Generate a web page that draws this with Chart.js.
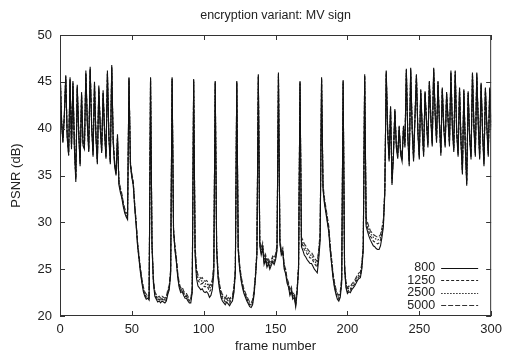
<!DOCTYPE html>
<html>
<head>
<meta charset="utf-8">
<title>encryption variant: MV sign</title>
<script src="https://cdn.jsdelivr.net/npm/chart.js@4/dist/chart.umd.min.js"></script>
<style>
  html, body { margin: 0; padding: 0; background: #fff; }
  #wrap { width: 508px; height: 355px; }
</style>
</head>
<body>
<div id="wrap"><canvas id="c" width="508" height="355"></canvas></div>
<script>
// PSNR per frame for four bit rates (frame 0 .. 300)
const frames = Array.from({ length: 301 }, (_, i) => i);
const seriesNames = ['800', '1250', '2500', '5000'];
const xTicks = [0, 50, 100, 150, 200, 250, 300];
const yTicks = [20, 25, 30, 35, 40, 45, 50];

const psnr800 = [
  46.9, 40.8, 38.5, 41.5, 45.7, 39.0, 37.2, 45.5, 37.8, 45.1, 38.0, 34.3, 44.7, 39.5, 36.0, 43.9, 38.2, 37.8, 46.2, 40.5,
  37.5, 46.6, 40.2, 37.0, 45.0, 39.0, 36.2, 44.6, 40.0, 37.4, 44.1, 39.5, 36.8, 46.2, 39.0, 36.2, 46.8, 38.5, 36.0,
  35.0, 39.4, 34.0, 33.2, 32.6, 31.7, 31.0, 30.6, 30.3, 45.5, 36.0, 34.8, 33.9, 31.5, 29.6, 27.4, 26.0, 24.6, 23.5, 22.6,
  22.1, 21.8, 21.9, 21.7,
  45.5,
  27.5, 23.5, 22.1, 21.8, 21.5, 21.6, 21.4, 21.6, 21.5, 21.4, 21.6, 22.3, 22.8, 24.5,
  45.5,
  29.0, 27.0, 25.7, 24.0, 23.0, 22.5, 22.6, 22.2, 21.9, 21.9, 21.6, 21.4, 21.4, 22.5,
  45.3,
  26.5, 24.0, 23.2, 23.0, 22.8, 22.9, 22.6, 22.5, 22.6, 22.4, 22.0, 22.2, 22.8, 24.5,
  45.1,
  27.0, 24.0, 22.8, 22.0, 21.6, 21.4, 21.2, 21.5, 21.3, 21.1, 21.4, 21.6, 22.5, 24.5,
  45.1,
  27.0, 25.0, 23.8, 23.0, 22.4, 22.0, 21.6, 21.3, 21.0, 20.9, 21.2, 22.2, 24.0, 26.5,
  45.8,
  27.5, 26.5, 27.2, 25.5, 26.0, 25.2, 25.6, 25.0, 25.4, 25.8, 25.5, 26.0, 27.0,
  46.0,
  27.8, 26.5, 26.8, 25.0, 24.5, 23.5, 23.1, 22.2, 22.6, 21.8, 22.0, 21.0, 22.5, 25.0,
  45.1,
  27.4, 27.0, 26.5, 26.3, 26.0, 25.8, 25.6, 25.6, 25.3, 25.0, 24.8, 24.6, 26.0, 28.0,
  45.5,
  33.5, 32.0, 31.0, 30.0, 29.0, 27.0, 25.5, 24.0, 23.0, 22.3, 21.8, 21.6, 22.0, 23.5,
  45.2,
  25.0, 23.0, 22.4, 22.6, 22.5, 22.8, 23.0, 23.2, 23.5, 23.8, 24.0, 24.1, 25.0, 27.0,
  45.8,
  29.6, 29.0, 28.5, 28.1, 27.8, 27.5, 27.4, 27.2, 27.1, 27.1, 27.5, 28.4, 29.5, 33.0,
  46.2,
  39.5, 36.5, 42.4, 34.0, 37.0, 42.1, 38.0, 36.8, 40.3, 37.2, 36.5, 40.3, 38.0, 46.4, 39.0, 36.0, 46.5, 40.0, 36.5, 41.0,
  45.8, 39.5, 36.7, 44.2, 40.0, 37.0, 44.0, 40.5, 38.0, 45.1, 41.0, 38.1, 46.5, 41.5, 38.5, 45.1, 40.5, 37.1, 44.4, 40.0,
  38.0, 43.9, 40.8, 38.1, 46.2, 40.0, 37.5, 46.2, 39.5, 37.0, 44.4, 38.5, 35.1, 44.2, 38.0, 33.9, 44.0, 39.0, 36.7, 46.0,
  40.0, 37.0, 46.0, 40.5, 36.7, 44.9, 39.5, 36.0, 44.4, 40.0, 37.0, 44.4, 40.0
];

const psnr1250 = [
  46.7, 41.0, 38.6, 41.3, 45.6, 39.2, 37.1, 45.3, 38.0, 44.9, 38.2, 34.6, 44.5, 39.7, 36.2, 43.7, 38.4, 37.9, 46.0, 40.7,
  37.6, 46.4, 40.4, 37.2, 44.8, 39.2, 36.4, 44.4, 40.2, 37.6, 43.9, 39.7, 36.9, 46.0, 39.2, 36.4, 46.6, 38.7, 36.2,
  35.2, 39.2, 34.2, 33.4, 32.8, 31.9, 31.2, 30.8, 30.5, 45.4, 36.2, 34.9, 34.0, 31.7, 29.8, 27.6, 26.2, 24.8, 23.7, 22.8,
  22.3, 22.0, 22.1, 21.9,
  45.4,
  27.6, 23.7, 22.3, 22.0, 21.7, 21.8, 21.6, 21.8, 21.7, 21.6, 21.8, 22.5, 23.0, 24.7,
  45.4,
  29.1, 27.2, 25.9, 24.2, 23.2, 22.7, 22.8, 22.4, 22.1, 22.1, 21.8, 21.6, 21.6, 22.7,
  45.2,
  26.9, 24.5, 23.8, 23.6, 23.4, 23.5, 23.2, 23.1, 23.2, 23.0, 22.6, 22.8, 23.3, 24.9,
  45.0,
  27.2, 24.2, 23.0, 22.3, 21.9, 21.7, 21.5, 21.8, 21.6, 21.4, 21.7, 21.8, 22.7, 24.7,
  45.0,
  27.2, 25.2, 24.0, 23.2, 22.6, 22.2, 21.8, 21.5, 21.2, 21.1, 21.4, 22.4, 24.2, 26.7,
  45.7,
  27.7, 26.8, 27.4, 25.8, 26.2, 25.5, 25.8, 25.3, 25.6, 26.0, 25.8, 26.2, 27.2,
  45.9,
  27.9, 26.7, 27.0, 25.2, 24.7, 23.7, 23.3, 22.4, 22.8, 22.0, 22.2, 21.2, 22.7, 25.2,
  45.0,
  27.9, 27.5, 27.1, 26.9, 26.6, 26.4, 26.2, 26.2, 25.9, 25.6, 25.4, 25.2, 26.5, 28.4,
  45.4,
  33.7, 32.2, 31.2, 30.2, 29.2, 27.2, 25.7, 24.2, 23.2, 22.5, 22.0, 21.8, 22.2, 23.7,
  45.1,
  25.2, 23.2, 22.6, 22.8, 22.7, 23.0, 23.2, 23.4, 23.7, 24.0, 24.2, 24.3, 25.2, 27.2,
  45.7,
  29.9, 29.4, 28.9, 28.5, 28.3, 28.0, 27.9, 27.8, 27.7, 27.8, 28.1, 28.8, 29.8, 33.2,
  46.1,
  39.7, 36.7, 42.3, 34.2, 37.2, 42.0, 38.2, 37.0, 40.2, 37.4, 36.7, 40.2, 38.2, 46.3, 39.2, 36.2, 46.4, 40.2, 36.7, 41.2,
  45.7, 39.7, 36.9, 44.1, 40.2, 37.2, 43.9, 40.7, 38.2, 45.0, 41.2, 38.3, 46.4, 41.7, 38.7, 45.0, 40.7, 37.3, 44.3, 40.2,
  38.2, 43.8, 41.0, 38.3, 46.1, 40.2, 37.7, 46.1, 39.7, 37.2, 44.3, 38.7, 35.3, 44.1, 38.2, 34.1, 43.9, 39.2, 36.9, 45.9,
  40.2, 37.2, 45.9, 40.7, 36.9, 44.8, 39.7, 36.2, 44.3, 40.2, 37.2, 44.3, 40.2
];

const psnr2500 = [
  46.6, 41.2, 38.8, 41.2, 45.5, 39.3, 37.4, 45.2, 38.1, 44.8, 38.3, 34.7, 44.4, 39.8, 36.3, 43.6, 38.5, 38.1, 45.9, 40.8,
  37.8, 46.3, 40.5, 37.3, 44.7, 39.3, 36.5, 44.3, 40.3, 37.7, 43.8, 39.8, 37.1, 45.9, 39.3, 36.5, 46.5, 38.8, 36.3,
  35.3, 39.0, 34.3, 33.5, 32.9, 32.0, 31.3, 30.9, 30.6, 45.3, 36.3, 35.0, 34.2, 31.8, 29.9, 27.7, 26.3, 24.9, 23.8, 22.9,
  22.4, 22.1, 22.2, 22.0,
  45.3,
  27.8, 23.8, 22.4, 22.1, 21.8, 21.9, 21.7, 21.9, 21.8, 21.7, 21.9, 22.6, 23.1, 24.8,
  45.3,
  29.2, 27.3, 26.0, 24.3, 23.3, 22.8, 22.9, 22.5, 22.2, 22.2, 21.9, 21.7, 21.7, 22.8,
  45.1,
  27.2, 24.8, 24.1, 23.9, 23.7, 23.8, 23.5, 23.4, 23.5, 23.3, 22.9, 23.1, 23.6, 25.2,
  44.9,
  27.4, 24.4, 23.2, 22.5, 22.1, 21.9, 21.7, 22.0, 21.8, 21.6, 21.9, 22.0, 22.9, 24.9,
  44.9,
  27.3, 25.3, 24.1, 23.3, 22.7, 22.3, 21.9, 21.6, 21.3, 21.2, 21.5, 22.5, 24.3, 26.8,
  45.6,
  27.9, 27.0, 27.6, 26.0, 26.4, 25.7, 26.0, 25.5, 25.8, 26.2, 26.0, 26.4, 27.4,
  45.8,
  28.0, 26.8, 27.1, 25.3, 24.8, 23.8, 23.4, 22.5, 22.9, 22.1, 22.3, 21.3, 22.8, 25.3,
  44.9,
  28.1, 27.8, 27.4, 27.2, 26.9, 26.7, 26.5, 26.5, 26.2, 25.9, 25.7, 25.5, 26.8, 28.6,
  45.3,
  33.9, 32.4, 31.4, 30.4, 29.4, 27.4, 25.9, 24.4, 23.4, 22.7, 22.2, 22.0, 22.4, 23.9,
  45.0,
  25.4, 23.4, 22.8, 23.0, 22.9, 23.2, 23.4, 23.6, 23.9, 24.2, 24.4, 24.5, 25.4, 27.4,
  45.6,
  30.2, 29.7, 29.2, 28.8, 28.6, 28.4, 28.3, 28.2, 28.1, 28.2, 28.4, 29.1, 30.0, 33.4,
  45.9,
  39.9, 36.9, 42.2, 34.4, 37.4, 41.9, 38.4, 37.2, 40.1, 37.6, 36.9, 40.1, 38.4, 46.2, 39.4, 36.4, 46.3, 40.4, 36.9, 41.4,
  45.6, 39.9, 37.1, 44.0, 40.4, 37.4, 43.8, 40.9, 38.4, 44.9, 41.4, 38.5, 46.3, 41.9, 38.9, 44.9, 40.9, 37.5, 44.2, 40.4,
  38.4, 43.7, 41.2, 38.5, 46.0, 40.4, 37.9, 46.0, 39.9, 37.4, 44.2, 38.9, 35.5, 44.0, 38.4, 34.3, 43.8, 39.4, 37.1, 45.8,
  40.4, 37.4, 45.8, 40.9, 37.1, 44.7, 39.9, 36.4, 44.2, 40.4, 37.4, 44.2, 40.4
];

const psnr5000 = [
  46.5, 41.4, 39.0, 41.0, 45.4, 39.5, 37.6, 45.0, 38.3, 44.6, 38.5, 34.9, 44.3, 40.0, 36.5, 43.5, 38.7, 38.3, 45.8, 41.0,
  38.0, 46.2, 40.7, 37.5, 44.6, 39.5, 36.7, 44.2, 40.5, 37.9, 43.7, 40.0, 37.3, 45.8, 39.5, 36.7, 46.4, 39.0, 36.5,
  35.5, 38.9, 34.5, 33.7, 33.1, 32.2, 31.5, 31.1, 30.8, 45.2, 36.5, 35.2, 34.4, 32.0, 30.1, 27.9, 26.5, 25.1, 24.0, 23.1,
  22.6, 22.3, 22.4, 22.2,
  45.2,
  28.0, 24.0, 22.6, 22.3, 22.0, 22.1, 21.9, 22.1, 22.0, 21.9, 22.1, 22.8, 23.3, 25.0,
  45.2,
  29.4, 27.5, 26.2, 24.5, 23.5, 23.0, 23.1, 22.7, 22.4, 22.4, 22.1, 21.9, 21.9, 23.0,
  45.0,
  27.5, 25.1, 24.4, 24.2, 24.0, 24.1, 23.8, 23.7, 23.8, 23.6, 23.2, 23.4, 23.9, 25.5,
  44.8,
  27.6, 24.6, 23.4, 22.7, 22.3, 22.1, 21.9, 22.2, 22.0, 21.8, 22.1, 22.2, 23.1, 25.1,
  44.8,
  27.5, 25.5, 24.3, 23.5, 22.9, 22.5, 22.1, 21.8, 21.5, 21.4, 21.7, 22.7, 24.5, 27.0,
  45.5,
  28.1, 27.2, 27.8, 26.2, 26.6, 25.9, 26.2, 25.7, 26.0, 26.4, 26.2, 26.6, 27.6,
  45.7,
  28.2, 27.0, 27.3, 25.5, 25.0, 24.0, 23.6, 22.7, 23.1, 22.3, 22.5, 21.5, 23.0, 25.5,
  44.8,
  28.4, 28.1, 27.7, 27.5, 27.2, 27.0, 26.8, 26.8, 26.5, 26.2, 26.0, 25.8, 27.1, 28.9,
  45.2,
  34.1, 32.6, 31.6, 30.6, 29.6, 27.6, 26.1, 24.6, 23.6, 22.9, 22.4, 22.2, 22.6, 24.1,
  44.9,
  25.6, 23.6, 23.0, 23.2, 23.1, 23.4, 23.6, 23.8, 24.1, 24.4, 24.6, 24.7, 25.6, 27.6,
  45.5,
  30.5, 30.0, 29.5, 29.1, 28.9, 28.7, 28.6, 28.5, 28.4, 28.5, 28.7, 29.4, 30.3, 33.6,
  45.8,
  40.1, 37.1, 42.0, 34.6, 37.6, 41.7, 38.6, 37.4, 39.9, 37.8, 37.1, 39.9, 38.6, 46.0, 39.6, 36.6, 46.1, 40.6, 37.1, 41.6,
  45.4, 40.1, 37.3, 43.8, 40.6, 37.6, 43.6, 41.1, 38.6, 44.7, 41.6, 38.7, 46.1, 42.1, 39.1, 44.7, 41.1, 37.7, 44.0, 40.6,
  38.6, 43.5, 41.4, 38.7, 45.8, 40.6, 38.1, 45.8, 40.1, 37.6, 44.0, 39.1, 35.7, 43.8, 38.6, 34.5, 43.6, 39.6, 37.3, 45.6,
  40.6, 37.6, 45.6, 41.1, 37.3, 44.5, 40.1, 36.6, 44.0, 40.6, 37.6, 44.0, 40.6
];

const seriesValues = [psnr800, psnr1250, psnr2500, psnr5000];
const lineColors = ['#111', '#222', '#262626', '#333'];
const lineDashes = [[], [3, 2], [1.5, 1.5], [5, 2]];
const FONT = "'Liberation Sans', Arial, Helvetica, sans-serif";
const TEXT = '#222';

// plot frame, inward tick marks on all four sides, title and key
const framePlugin = {
  id: 'frame',
  afterDraw(chart) {
    const { ctx, chartArea: a, scales } = chart;
    ctx.save();
    ctx.strokeStyle = '#333';
    ctx.lineWidth = 1;
    ctx.setLineDash([]);
    ctx.strokeRect(a.left + 0.5, a.top + 0.5, a.right - a.left - 1, a.bottom - a.top - 1);
    const t = 5;
    ctx.beginPath();
    xTicks.forEach(v => {
      const x = Math.round(scales.x.getPixelForValue(v)) + 0.5;
      ctx.moveTo(x, a.bottom); ctx.lineTo(x, a.bottom - t);
      ctx.moveTo(x, a.top); ctx.lineTo(x, a.top + t);
    });
    yTicks.forEach(v => {
      const y = Math.round(scales.y.getPixelForValue(v)) + 0.5;
      ctx.moveTo(a.left, y); ctx.lineTo(a.left + t, y);
      ctx.moveTo(a.right, y); ctx.lineTo(a.right - t, y);
    });
    ctx.stroke();

    // title
    ctx.fillStyle = TEXT;
    ctx.font = '12.5px ' + FONT;
    ctx.textAlign = 'center';
    ctx.textBaseline = 'middle';
    ctx.fillText('encryption variant: MV sign', (a.left + a.right) / 2, 16);

    // key, lower right inside the plot
    ctx.font = '12.5px ' + FONT;
    ctx.textAlign = 'right';
    const textX = a.right - 56, lx0 = a.right - 50, lx1 = a.right - 13;
    seriesNames.forEach((name, i) => {
      const y = a.bottom - 48 + i * 12.4;
      ctx.fillStyle = TEXT;
      ctx.fillText(name, textX, y);
      ctx.strokeStyle = lineColors[i];
      ctx.setLineDash(lineDashes[i]);
      ctx.beginPath();
      ctx.moveTo(lx0, Math.round(y) + 0.5);
      ctx.lineTo(lx1, Math.round(y) + 0.5);
      ctx.stroke();
    });
    ctx.restore();
  }
};

new Chart(document.getElementById('c'), {
  type: 'line',
  data: {
    labels: frames,
    datasets: seriesNames.map((name, i) => ({
      label: name,
      data: seriesValues[i],
      borderColor: lineColors[i],
      borderWidth: 1.1,
      borderDash: lineDashes[i],
      pointRadius: 0,
      tension: 0,
      fill: false
    }))
  },
  options: {
    responsive: false,
    animation: false,
    events: [],
    layout: { padding: { left: 8, right: 15, top: 35, bottom: 0 } },
    plugins: { legend: { display: false }, title: { display: false }, tooltip: { enabled: false } },
    scales: {
      x: {
        type: 'linear',
        min: 0, max: 300,
        afterBuildTicks(s) { s.ticks = xTicks.map(v => ({ value: v })); },
        afterFit(s) { s.height = 39; },
        grid: { display: false, drawTicks: false },
        border: { display: false },
        ticks: { padding: 6, color: TEXT, font: { family: FONT, size: 13 }, maxRotation: 0 },
        title: { display: true, text: 'frame number', color: TEXT, font: { family: FONT, size: 13 }, padding: { top: 0, bottom: 1 } }
      },
      y: {
        min: 20, max: 50,
        afterBuildTicks(s) { s.ticks = yTicks.map(v => ({ value: v })); },
        afterFit(s) { s.width = 52; },
        grid: { display: false, drawTicks: false },
        border: { display: false },
        ticks: { padding: 8, color: TEXT, font: { family: FONT, size: 13 } },
        title: { display: true, text: 'PSNR (dB)', color: TEXT, font: { family: FONT, size: 13 }, padding: { top: 1, bottom: 0 } }
      }
    }
  },
  plugins: [framePlugin]
});
</script>
</body>
</html>
